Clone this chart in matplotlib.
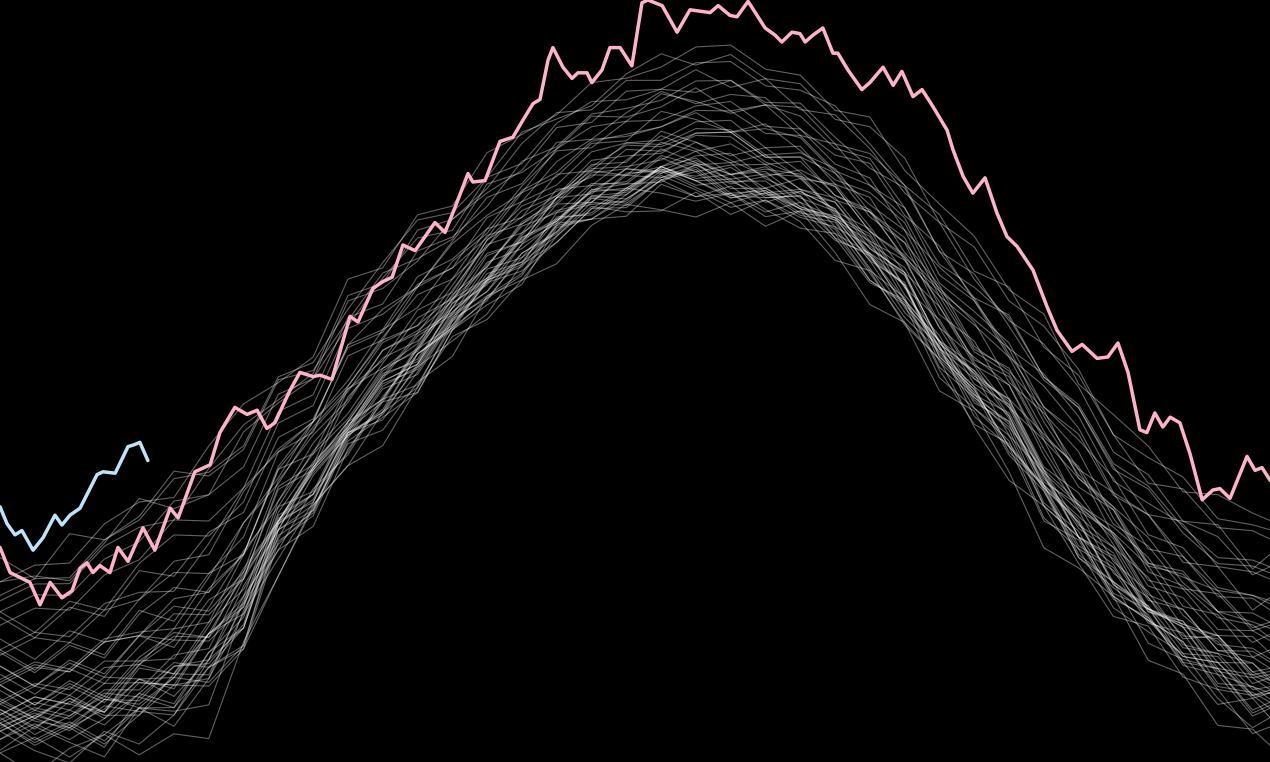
import matplotlib
matplotlib.use('Agg')
import matplotlib.pyplot as plt
import numpy as np

##-------------------------------------------------------------
# day-of-year grid used for the historical (grey) years
grid_days = [0, 10, 20, 30, 40, 50, 60, 70, 80, 90, 100, 110, 120, 130, 140,
             150, 160, 170, 180, 190, 200, 210, 220, 230, 240, 250, 260, 270,
             280, 290, 300, 310, 320, 330, 340, 350, 360, 365]

# reference level of the grey band, deg C
clim_temp = [12.42, 12.41, 12.49, 12.56, 12.74, 12.85, 13.03, 13.34, 13.79, 14.05,
             14.46, 14.69, 14.94, 15.17, 15.45, 15.66, 15.87, 16.00, 16.11, 16.21,
             16.23, 16.19, 16.13, 16.04, 15.88, 15.69, 15.42, 15.06, 14.76, 14.49,
             14.15, 13.81, 13.50, 13.22, 13.02, 12.86, 12.70, 12.70]

# relative width of the band through the year
band_spread = [0.97, 0.96, 1.05, 1.14, 1.29, 1.34, 1.34, 1.25, 1.03, 0.96,
               0.98, 0.92, 0.92, 0.79, 0.80, 0.80, 0.76, 0.75, 0.77, 0.79,
               0.81, 0.84, 0.85, 0.77, 0.80, 0.87, 0.89, 0.94, 0.96, 1.00,
               1.07, 1.05, 1.03, 1.02, 1.05, 1.07, 1.05, 1.10]

# anomaly of each past year from that level (hundredths of a degree)
gray_anom = [
    [-72,-88,-70,-62,-80,-74,-90,-66,-78,-58,-70,-84,-66,-60,-79,-70,-86,-68,-61,-77,-84,-64,-76,-58,-73,-88,-70,-80,-62,-76,-90,-73,-64,-82,-70,-88,-77,-84],
    [-56,-70,-80,-60,-74,-64,-52,-70,-78,-60,-54,-72,-62,-78,-58,-70,-60,-50,-68,-78,-62,-74,-54,-68,-80,-60,-72,-56,-74,-82,-62,-70,-78,-58,-72,-64,-80,-72],
    [-70,-52,-66,-76,-54,-62,-72,-48,-60,-74,-58,-50,-70,-54,-66,-74,-52,-62,-72,-54,-66,-50,-62,-74,-56,-68,-54,-46,-66,-58,-72,-54,-66,-52,-62,-74,-56,-66],
    [-50,-66,-56,-70,-48,-60,-52,-68,-46,-58,-70,-58,-50,-64,-74,-56,-66,-52,-46,-62,-70,-56,-64,-50,-60,-70,-52,-64,-72,-56,-50,-66,-54,-70,-60,-50,-66,-58],
    [-72,-60,-76,-62,-54,-70,-58,-50,-66,-56,-46,-64,-54,-44,-60,-50,-42,-58,-48,-40,-56,-46,-38,-54,-44,-36,-52,-42,-34,-50,-40,-52,-36,-46,-34,-50,-40,-44],
    [-40,-54,-38,-50,-58,-42,-56,-44,-60,-46,-62,-48,-64,-50,-46,-62,-66,-52,-64,-50,-66,-56,-68,-58,-52,-68,-56,-70,-60,-54,-70,-60,-72,-62,-56,-70,-76,-66],
    [-46,-62,-52,-66,-54,-44,-60,-68,-50,-64,-48,-58,-66,-46,-58,-64,-48,-62,-52,-42,-58,-64,-48,-62,-46,-58,-66,-50,-44,-62,-48,-64,-54,-44,-62,-50,-64,-56],
    [-62,-46,-58,-44,-56,-64,-48,-40,-56,-62,-46,-58,-40,-52,-62,-46,-56,-42,-60,-50,-40,-56,-46,-60,-42,-52,-62,-46,-56,-40,-52,-60,-46,-56,-42,-60,-48,-54],
    [-42,-58,-48,-38,-54,-60,-44,-58,-46,-62,-50,-40,-56,-46,-38,-54,-60,-46,-62,-50,-44,-60,-46,-56,-62,-46,-40,-58,-50,-42,-60,-48,-62,-46,-56,-42,-54,-48],
    [-62,-50,-64,-52,-46,-58,-44,-52,-38,-50,-42,-34,-48,-38,-46,-32,-44,-36,-46,-38,-50,-40,-52,-44,-56,-46,-58,-48,-60,-50,-62,-52,-64,-54,-48,-62,-52,-56],
    [-40,-52,-44,-56,-46,-36,-52,-58,-42,-54,-46,-60,-48,-40,-54,-46,-58,-42,-52,-38,-52,-58,-44,-54,-42,-52,-38,-54,-46,-58,-48,-42,-54,-46,-38,-52,-42,-48],
    [-56,-44,-36,-52,-40,-48,-58,-42,-52,-36,-48,-56,-40,-52,-44,-56,-38,-48,-58,-44,-36,-52,-44,-56,-40,-48,-56,-42,-52,-40,-48,-58,-44,-52,-58,-46,-54,-50],
    [-36,-48,-56,-40,-52,-44,-34,-50,-40,-56,-44,-36,-52,-44,-34,-50,-56,-40,-50,-38,-52,-44,-56,-40,-34,-50,-40,-52,-44,-36,-50,-40,-56,-44,-52,-40,-50,-46],
    [-34,-46,-36,-48,-30,-42,-34,-46,-36,-50,-40,-48,-36,-50,-42,-54,-44,-56,-46,-40,-52,-60,-48,-56,-44,-60,-50,-62,-52,-46,-62,-52,-64,-54,-48,-64,-54,-60],
    [-54,-40,-50,-36,-48,-38,-50,-56,-40,-34,-48,-38,-50,-42,-54,-38,-48,-34,-42,-52,-38,-48,-34,-50,-42,-32,-48,-38,-50,-34,-42,-52,-38,-48,-34,-46,-32,-42],
    [-56,-44,-54,-40,-50,-38,-48,-34,-46,-32,-44,-50,-36,-30,-44,-34,-46,-30,-40,-28,-38,-44,-32,-26,-40,-30,-42,-26,-36,-24,-38,-28,-22,-36,-26,-38,-28,-34],
    [-32,-46,-34,-48,-38,-50,-34,-44,-30,-48,-38,-28,-46,-34,-48,-38,-30,-46,-34,-48,-38,-30,-48,-38,-50,-40,-32,-48,-38,-30,-44,-34,-48,-38,-50,-40,-32,-40],
    [-48,-34,-44,-30,-40,-48,-34,-28,-42,-32,-46,-34,-48,-30,-42,-28,-36,-46,-32,-42,-48,-34,-44,-28,-36,-46,-32,-42,-28,-36,-48,-38,-30,-46,-36,-28,-42,-38],
    [-22,-36,-26,-40,-28,-22,-36,-26,-40,-30,-42,-30,-44,-34,-28,-42,-46,-34,-48,-38,-32,-46,-50,-40,-34,-48,-52,-42,-54,-44,-38,-52,-42,-54,-58,-46,-56,-50],
    [-44,-30,-40,-26,-38,-44,-30,-24,-40,-30,-44,-32,-26,-40,-30,-22,-38,-28,-42,-30,-44,-32,-24,-38,-28,-42,-30,-44,-34,-26,-40,-30,-24,-38,-44,-30,-40,-36],
    [-26,-40,-28,-42,-30,-24,-38,-46,-34,-26,-42,-30,-24,-38,-44,-30,-24,-38,-28,-42,-30,-22,-36,-42,-28,-38,-26,-32,-42,-28,-38,-44,-30,-24,-38,-28,-38,-34],
    [-50,-38,-48,-34,-44,-32,-42,-30,-40,-28,-38,-26,-36,-22,-32,-20,-30,-18,-28,-16,-26,-14,-24,-12,-22,-10,-20,-8,-18,-6,-16,-4,-14,-2,-12,0,-10,-6],
    [-22,-36,-24,-38,-26,-20,-36,-40,-26,-20,-36,-24,-38,-26,-20,-36,-24,-16,-34,-22,-36,-40,-26,-38,-24,-36,-20,-28,-38,-24,-36,-22,-28,-40,-26,-38,-24,-30],
    [-8,-22,-12,-26,-14,-28,-16,-30,-18,-32,-20,-16,-30,-34,-22,-36,-24,-20,-34,-38,-26,-40,-28,-24,-38,-42,-30,-44,-32,-28,-42,-46,-34,-48,-36,-32,-46,-40],
    [-34,-20,-30,-16,-28,-34,-20,-14,-30,-18,-32,-20,-12,-26,-32,-18,-28,-14,-26,-32,-18,-28,-34,-20,-14,-28,-18,-32,-22,-14,-28,-34,-20,-30,-18,-28,-14,-24],
    [-14,-28,-16,-30,-20,-10,-24,-30,-16,-28,-14,-24,-32,-18,-12,-28,-16,-30,-20,-10,-24,-30,-16,-28,-12,-24,-30,-16,-28,-14,-24,-30,-16,-10,-24,-14,-28,-22],
    [-36,-22,-34,-20,-30,-18,-28,-16,-26,-12,-24,-10,-22,-28,-14,-8,-22,-12,-6,-20,-10,-4,-18,-8,-2,-16,-6,0,-14,-4,2,-12,-2,-14,-4,2,-8,-4],
    [-8,-22,-10,-24,-14,-6,-22,-26,-12,-6,-22,-10,-24,-14,-4,-20,-24,-10,-22,-6,-18,-24,-10,-22,-26,-12,-6,-22,-10,-24,-14,-6,-22,-26,-12,-24,-10,-16],
    [4,-10,2,-12,0,-14,-2,-16,-4,0,-14,-18,-6,-20,-8,-4,-18,-22,-10,-24,-12,-8,-22,-26,-14,-28,-16,-12,-26,-30,-18,-32,-20,-16,-30,-34,-22,-28],
    [-18,-4,-16,-2,-12,-18,-4,2,-14,-2,-16,-4,-18,-8,2,-14,-2,-16,-4,-18,-6,-2,-16,-4,2,-12,-18,-4,-16,-2,-12,-18,-4,-16,-2,-12,-18,-12],
    [2,-12,0,-14,-2,4,-12,-16,-2,4,-12,0,6,-8,-14,0,-12,2,-4,-14,0,6,-10,2,-12,0,-14,-2,4,-12,0,6,-10,-14,0,-12,2,-4],
    [-20,-6,-18,-4,-14,-2,-12,2,-10,4,-8,6,-4,8,-2,10,0,12,4,-2,10,14,2,12,0,10,14,2,12,16,4,14,18,6,16,4,14,8],
    [12,-2,10,-4,6,12,-2,-6,8,-4,10,-2,12,2,-6,8,-4,10,-2,12,2,-4,10,-2,-8,4,10,-4,6,12,-2,-6,8,-4,10,-2,12,4],
    [28,14,26,12,22,10,20,8,18,6,16,4,14,2,12,0,10,14,2,-2,8,-4,6,10,-2,-6,4,-8,2,6,-6,-10,-2,4,-8,-12,-4,-8],
    [4,18,6,20,10,2,14,22,8,4,18,6,20,10,2,14,20,6,16,4,14,22,8,18,6,16,4,14,22,8,4,18,6,20,10,2,14,10],
    [0,14,2,16,6,18,8,20,10,4,18,22,12,24,14,8,22,26,16,28,18,12,26,30,20,32,22,16,30,34,24,36,26,20,34,38,28,32],
    [32,18,30,16,26,32,18,14,28,16,30,18,12,26,30,16,28,14,24,30,16,28,32,18,14,28,16,30,20,12,26,30,16,28,32,18,30,24],
    [72,58,76,60,52,66,50,44,58,42,36,50,34,28,42,26,22,36,20,16,30,14,26,12,24,10,22,8,20,6,18,22,8,20,6,18,4,12],
    [22,36,24,38,28,40,26,22,36,24,38,26,40,30,22,36,24,38,28,22,36,40,26,38,24,36,40,26,22,36,24,38,28,40,30,24,38,32],
    [54,60,44,58,62,46,40,54,42,36,50,38,32,46,34,28,42,30,44,32,26,40,28,42,30,24,38,26,40,28,22,36,24,38,26,20,34,28],
    [32,46,34,48,38,50,40,34,48,36,32,46,50,36,48,34,46,50,36,32,46,34,48,36,50,40,34,48,36,32,46,50,36,48,34,46,32,40],
    [40,54,42,56,46,40,54,58,44,40,54,42,56,46,38,52,56,42,54,40,52,56,42,54,58,44,40,54,42,56,44,58,48,42,56,44,58,50],
    [44,58,46,60,50,62,52,46,60,48,44,58,64,52,48,62,50,46,60,64,50,62,48,60,46,58,62,48,60,46,58,62,48,60,64,50,62,56],
    [54,68,56,70,60,52,66,70,56,52,66,54,68,58,70,60,54,68,56,52,66,70,56,68,54,66,52,62,68,54,66,52,62,68,54,66,70,62],
    [-50,-64,-54,-68,-58,-48,-62,-70,-54,-66,-52,-62,-70,-54,-60,-66,-50,-62,-56,-46,-60,-68,-54,-64,-50,-62,-70,-56,-48,-64,-52,-66,-58,-50,-64,-54,-68,-60],
    [-44,-30,-40,-48,-32,-42,-28,-36,-46,-30,-38,-48,-34,-26,-42,-32,-46,-36,-28,-44,-34,-40,-30,-46,-36,-26,-42,-48,-32,-38,-46,-30,-40,-34,-46,-28,-38,-42],
    [-52,-42,-56,-46,-38,-54,-48,-58,-42,-50,-60,-46,-40,-54,-44,-58,-50,-40,-56,-48,-42,-58,-52,-44,-60,-48,-40,-54,-46,-58,-50,-42,-56,-46,-38,-54,-48,-50],
    [-22,-8,-18,-4,-14,-24,-10,-16,-4,-20,-12,-2,-18,-24,-8,-14,-22,-6,-16,-26,-10,-4,-18,-8,-22,-12,-2,-16,-24,-8,-18,-12,-4,-20,-10,-16,-6,-14],
]

# highlighted year (pink)
pink_days = [0.0, 2.9, 8.6, 11.5, 14.4, 17.8, 20.7, 23.0, 25.0, 26.7,
             28.7, 31.6, 33.9, 36.8, 41.1, 44.5, 48.9, 51.2, 56.0, 60.4,
             63.2, 67.5, 71.0, 73.9, 76.7, 79.0, 83.3, 86.2, 90.0, 92.0,
             95.4, 100.6, 102.9, 107.2, 110.1, 112.7, 115.8, 119.3, 125.0, 127.9,
             130.8, 134.5, 135.9, 139.4, 143.7, 147.4, 150.0, 153.2, 155.2, 157.5,
             158.9, 161.8, 164.4, 166.1, 168.7, 170.1, 173.0, 175.3, 178.2, 181.6,
             184.5, 186.2, 190.3, 194.6, 198.3, 204.1, 206.4, 209.8, 211.8, 215.0,
             219.9, 222.7, 224.7, 227.6, 229.9, 231.4, 233.7, 236.5, 239.4, 240.8,
             243.7, 247.7, 250.0, 253.8, 256.7, 259.2, 262.4, 265.0, 268.1, 272.2,
             273.9, 276.8, 279.6, 283.1, 286.5, 289.4, 292.3, 296.9, 300.9, 303.8,
             308.1, 311.0, 315.3, 318.4, 321.3, 324.2, 327.6, 329.6, 331.9, 334.2,
             336.3, 339.1, 342.0, 345.5, 348.6, 350.6, 353.5, 358.4, 360.7, 362.7,
             365.0]
pink_temp = [13.19, 13.01, 12.94, 12.78, 12.94, 12.83, 12.88, 13.04, 13.08, 13.01,
             13.06, 13.01, 13.19, 13.09, 13.33, 13.17, 13.47, 13.40, 13.73, 13.78,
             14.01, 14.19, 14.14, 14.17, 14.04, 14.08, 14.31, 14.44, 14.41, 14.42,
             14.39, 14.84, 14.80, 15.04, 15.09, 15.12, 15.35, 15.31, 15.51, 15.44,
             15.62, 15.86, 15.80, 15.81, 16.09, 16.12, 16.23, 16.36, 16.39, 16.67,
             16.76, 16.62, 16.54, 16.58, 16.58, 16.51, 16.60, 16.76, 16.76, 16.63,
             17.08, 17.10, 17.06, 16.87, 17.03, 17.01, 17.06, 16.99, 16.98, 17.09,
             16.90, 16.85, 16.80, 16.87, 16.86, 16.80, 16.85, 16.90, 16.72, 16.72,
             16.60, 16.46, 16.51, 16.62, 16.49, 16.59, 16.41, 16.46, 16.34, 16.17,
             16.03, 15.84, 15.72, 15.83, 15.58, 15.41, 15.34, 15.17, 14.91, 14.74,
             14.59, 14.64, 14.54, 14.55, 14.65, 14.44, 14.03, 14.01, 14.15, 14.05,
             14.12, 14.08, 13.86, 13.53, 13.60, 13.61, 13.54, 13.84, 13.74, 13.76,
             13.67]

# current year so far (light blue)
blue_days = [0.0, 2.0, 4.3, 6.3, 9.5, 12.4, 15.8, 17.8, 20.1, 23.0,
             27.9, 29.6, 33.1, 36.8, 38.2, 40.2, 42.5]
blue_temp = [13.48, 13.36, 13.28, 13.31, 13.17, 13.26, 13.42, 13.35, 13.42, 13.47,
             13.71, 13.73, 13.72, 13.91, 13.92, 13.94, 13.81]
##-------------------------------------------------------------

fig = plt.figure(figsize=(12.7, 7.62), dpi=100, facecolor='black')
ax = fig.add_axes([0, 0, 1, 1])
ax.set_facecolor('black')

clim = np.array(clim_temp)
spread = np.array(band_spread)
for row in gray_anom:
    ax.plot(grid_days, clim + np.array(row) / 100.0 * spread,
            color='white', lw=0.8, alpha=0.38, solid_joinstyle='round')

ax.plot(pink_days, pink_temp, color='#ffb3c8', lw=2.5,
        solid_joinstyle='round', solid_capstyle='round')
ax.plot(blue_days, blue_temp, color='#bfe3fb', lw=2.5,
        solid_joinstyle='round', solid_capstyle='round')

ax.set_xlim(0, 365)
ax.set_ylim(11.657, 17.10)
ax.axis('off')

fig.savefig('out.png', dpi=100, facecolor='black')
